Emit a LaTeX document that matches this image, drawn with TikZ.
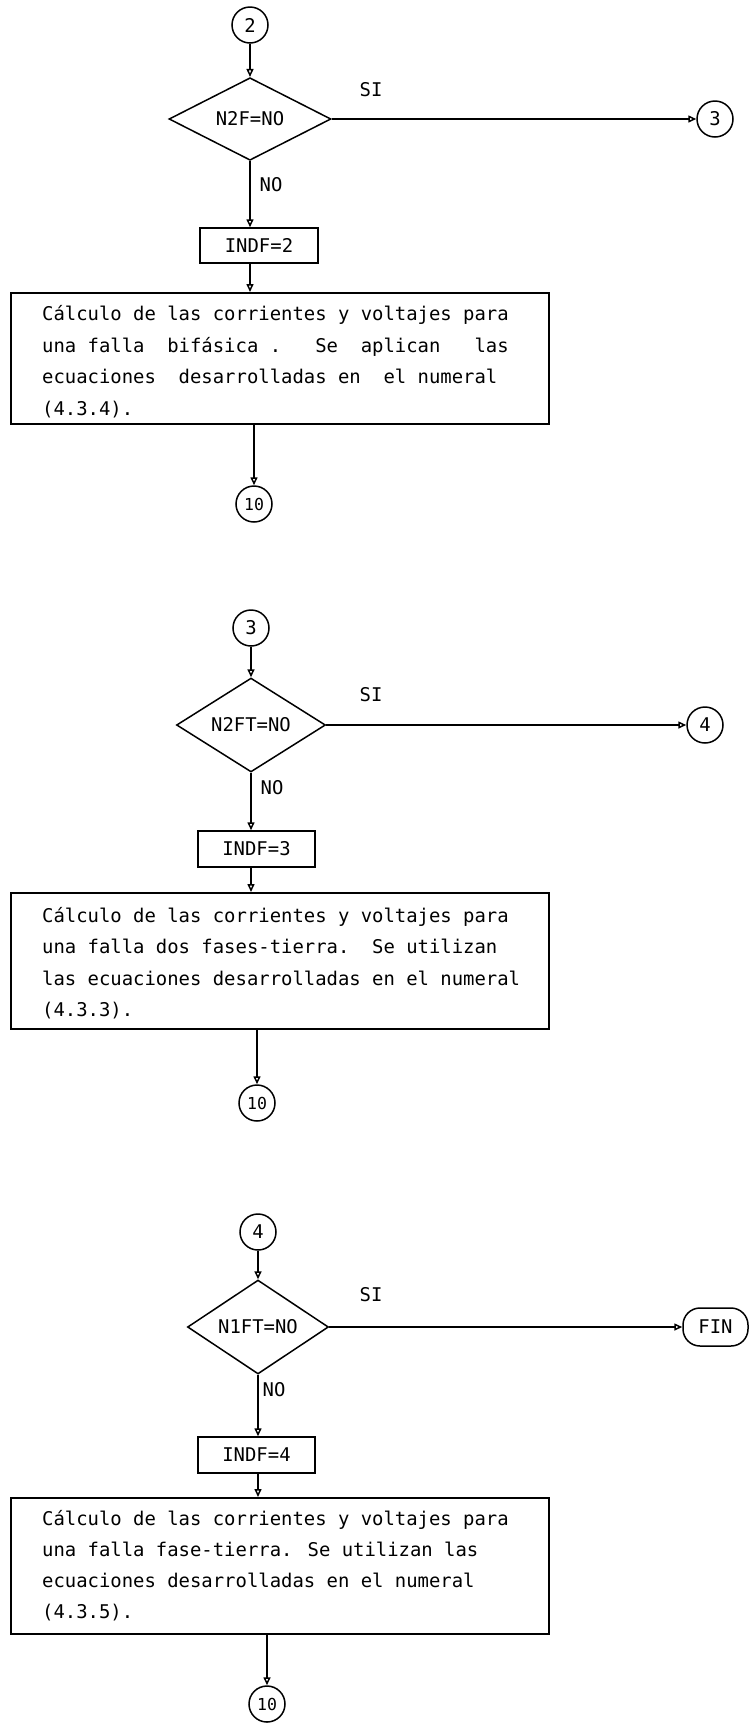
\documentclass[tikz,border=0pt]{standalone}
\usepackage{fontspec}
\newfontfamily\dotfont{DejaVu Sans Mono}
\newcommand\dftext{\dotfont\fontsize{18.9}{22}\selectfont}
\newcommand\dfsmall{\dotfont\fontsize{16.5}{18}\selectfont}
\usetikzlibrary{shapes.geometric,arrows.meta}
\begin{document}
\begin{tikzpicture}[x=1pt,y=-1pt,
  conn/.style={draw, circle, line width=1.5pt, minimum size=36pt, inner sep=0pt, font=\dftext},
  dec/.style={draw, diamond, line width=1.5pt, inner sep=0pt, font=\dftext},
  proc/.style={draw, rectangle, line width=1.5pt, inner sep=0pt, font=\dftext},
  bigbox/.style={draw, rectangle, line width=1.5pt, inner sep=0pt, anchor=north west},
  term/.style={draw, rectangle, rounded corners=17pt, line width=1.5pt, inner sep=0pt, font=\dftext},
  txt/.style={anchor=base west, inner sep=0pt, font=\dftext},
  lbl/.style={inner sep=0pt, font=\dftext},
  arr/.style={line width=1.5pt, -{Triangle[open,length=8pt,width=7pt]}}]
\useasboundingbox (0,0) rectangle (752,1725);

% ---------- section 1 ----------
\node[conn] (c2) at (250,25) {2};
\node[dec, minimum width=162pt, minimum height=66pt] (d1) at (250,119) {N2F=NO};
\node[lbl] (si1) at (371,90) {SI};
\node[conn] (c3a) at (715,119) {3};
\node[lbl] (no1) at (271,185) {NO};
\node[proc, minimum width=118pt, minimum height=35pt] (i2) at (259,245.5) {INDF=2};
\node[bigbox, minimum width=538pt, minimum height=131pt] (b1) at (10,292) {};
\node[txt] (t1a) at (42,320) {Cálculo de las corrientes y voltajes para};
\node[txt] (t1b) at (42,352) {una falla~~bifásica .~~~Se~~aplican~~~las};
\node[txt] (t1c) at (42,383) {ecuaciones~~desarrolladas en~~el numeral};
\node[txt] (t1d) at (42,415) {(4.3.4).};
\node[conn, font=\dfsmall] (c10a) at (254,504) {10};

\draw[arr] (c2) -- (d1);
\draw[arr] (d1) -- (c3a);
\draw[arr] (d1) -- (d1 |- i2.north);
\draw[arr] (d1 |- i2.south) -- (d1 |- b1.north);
\draw[arr] (c10a |- b1.south) -- (c10a);

% ---------- section 2 ----------
\node[conn] (c3b) at (251,628) {3};
\node[dec, minimum width=149pt, minimum height=74pt] (d2) at (251,725) {N2FT=NO};
\node[lbl] (si2) at (371,695) {SI};
\node[conn] (c4a) at (705,725) {4};
\node[lbl] (no2) at (272,788) {NO};
\node[proc, minimum width=117pt, minimum height=36pt] (i3) at (256.5,849) {INDF=3};
\node[bigbox, minimum width=538pt, minimum height=136pt] (b2) at (10,892) {};
\node[txt] (t2a) at (42,922) {Cálculo de las corrientes y voltajes para};
\node[txt] (t2b) at (42,953) {una falla dos fases-tierra.~~Se utilizan};
\node[txt] (t2c) at (42,985) {las ecuaciones desarrolladas en el numeral};
\node[txt] (t2d) at (42,1016) {(4.3.3).};
\node[conn, font=\dfsmall] (c10b) at (257,1103) {10};

\draw[arr] (c3b) -- (d2);
\draw[arr] (d2) -- (c4a);
\draw[arr] (d2) -- (d2 |- i3.north);
\draw[arr] (d2 |- i3.south) -- (d2 |- b2.north);
\draw[arr] (c10b |- b2.south) -- (c10b);

% ---------- section 3 ----------
\node[conn] (c4b) at (258,1232) {4};
\node[dec, minimum width=141pt, minimum height=59pt] (d3) at (258,1327) {N1FT=NO};
\node[lbl] (si3) at (371,1295) {SI};
\node[term, minimum width=65pt, minimum height=38pt] (fin) at (715.5,1327) {FIN};
\node[lbl] (no3) at (274,1390) {NO};
\node[proc, minimum width=117pt, minimum height=36pt] (i4) at (256.5,1455) {INDF=4};
\node[bigbox, minimum width=538pt, minimum height=136pt] (b3) at (10,1497) {};
\node[txt] (t3a) at (42,1525) {Cálculo de las corrientes y voltajes para};
\node[txt] (t3b) at (42,1556) {una falla fase-tierra. Se utilizan las};
\node[txt] (t3c) at (42,1587) {ecuaciones desarrolladas en el numeral};
\node[txt] (t3d) at (42,1618) {(4.3.5).};
\node[conn, font=\dfsmall] (c10c) at (267,1704) {10};

\draw[arr] (c4b) -- (d3);
\draw[arr] (d3) -- (fin);
\draw[arr] (d3) -- (d3 |- i4.north);
\draw[arr] (d3 |- i4.south) -- (d3 |- b3.north);
\draw[arr] (c10c |- b3.south) -- (c10c);
\end{tikzpicture}
\end{document}
